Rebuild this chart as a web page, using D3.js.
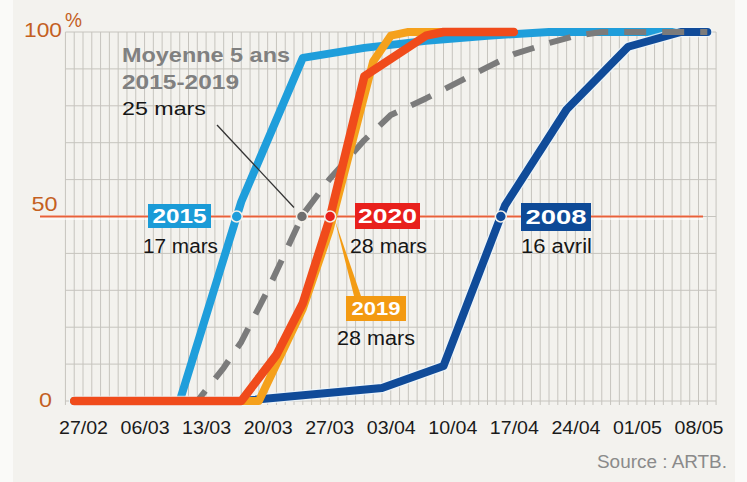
<!DOCTYPE html>
<html><head><meta charset="utf-8">
<script src="https://cdn.jsdelivr.net/npm/d3@7"></script>
<style>
html,body{margin:0;padding:0;background:#fafaf8;}
svg{display:block;font-family:"Liberation Sans",Arial,Helvetica,sans-serif;}
</style></head><body>
<svg id="c" width="747" height="482"></svg>
<script>
// ---------- data ----------
const xTickLabels = ["27/02","06/03","13/03","20/03","27/03","03/04","10/04","17/04","24/04","01/05","08/05"];
const yTickValues = [0, 50, 100];

const series2015 = [["26/02",0],["10/03",0],["17/03",54],["24/03",93],["31/03",95.7],["07/04",97.6],["14/04",99],["21/04",100],["09/05",100]];
const series2008 = [["26/02",0],["17/03",0],["02/04",3.5],["09/04",9.5],["16/04",53],["23/04",79],["30/04",96],["06/05",100],["09/05",100]];
const seriesMoy  = [["26/02",0],["12/03",0],["15/03",9],["17/03",16],["20/03",30],["24/03",50.5],["27/03",60],["31/03",70.7],["03/04",77.5],["07/04",82],["10/04",85.6],["14/04",90.5],["17/04",94],["21/04",97],["24/04",99],["27/04",100],["09/05",100]];
const series2019 = [["26/02",0],["19/03",0],["24/03",25],["27/03",46],["01/04",92],["03/04",99],["05/04",100],["14/04",100]];
const series2020 = [["26/02",0],["17/03",0],["21/03",12.5],["24/03",26.5],["27/03",49],["31/03",88],["07/04",99],["09/04",100],["17/04",100]];

// ---------- setup ----------
const parse = s => { const [d,m] = s.split("/").map(Number); return new Date(2019, m-1, d); };
const svg = d3.select("#c");
const x = d3.scaleTime().domain([parse("27/02"), parse("08/05")]).range([83, 698.5]);
const y = d3.scaleLinear().domain([0,100]).range([401, 32]);
const gridStart = parse("25/02"), gridEnd = parse("10/05");

function label(g, str, px, py, o) {
  const t = g.append("text").attr("x", px).attr("y", py).text(str)
    .attr("font-size", o.size).attr("font-weight", o.weight || "normal")
    .attr("fill", o.fill).attr("text-anchor", o.anchor || "start");
  if (o.len) t.attr("textLength", o.len).attr("lengthAdjust", "spacingAndGlyphs");
  return t;
}

// panel
svg.append("rect").attr("x",13).attr("y",0).attr("width",722).attr("height",482).attr("fill","#f3f2ee");

// grid
const grid = svg.append("g");
const days = d3.timeDay.range(gridStart, d3.timeDay.offset(gridEnd, 1));
grid.selectAll("line.v").data(days).join("line")
  .attr("x1", d => x(d)).attr("x2", d => x(d))
  .attr("y1", y(100)).attr("y2", y(0) + 4)
  .attr("stroke", "#c6c4be").attr("stroke-width", 1);
grid.selectAll("line.h").data(d3.range(0, 101, 10)).join("line")
  .attr("x1", x(gridStart)).attr("x2", x(gridEnd))
  .attr("y1", d => y(d)).attr("y2", d => y(d))
  .attr("stroke", "#c6c4be").attr("stroke-width", 1);

// 50% line
svg.append("line").attr("x1",40).attr("x2",703).attr("y1",y(50)+1).attr("y2",y(50)+1)
  .attr("stroke","#fff").attr("stroke-opacity",0.6).attr("stroke-width",5);
svg.append("line").attr("x1",40).attr("x2",703).attr("y1",y(50)).attr("y2",y(50))
  .attr("stroke","#e8613a").attr("stroke-width",2.2);

// lines
const line = d3.line().x(d => x(parse(d[0]))).y(d => y(d[1]));
function drawSeries(data, color, width, opts = {}) {
  if (opts.halo) svg.append("path").attr("d", line(data)).attr("fill","none")
    .attr("stroke","#eef6fc").attr("stroke-opacity",0.8).attr("stroke-width", width + 2.5)
    .attr("stroke-linejoin","round").attr("stroke-linecap","round");
  const p = svg.append("path").attr("d", line(data)).attr("fill","none")
    .attr("stroke", color).attr("stroke-width", width)
    .attr("stroke-linejoin","round").attr("stroke-linecap", opts.dash ? "butt" : "round");
  if (opts.dash) p.attr("stroke-dasharray", opts.dash);
}
drawSeries(series2015, "#1f9edb", 8);
drawSeries(series2008, "#104b99", 8, {halo:true});
drawSeries(seriesMoy, "#7b7b7b", 6, {dash:"22,16"});
drawSeries(series2019, "#f5a11c", 8);
drawSeries(series2020, "#f04b1b", 8.5);

// crossing of 50%
function cross50(data) {
  for (let i = 1; i < data.length; i++) {
    const a = data[i-1], b = data[i];
    if (a[1] < 50 && b[1] >= 50) {
      const ta = parse(a[0]).getTime(), tb = parse(b[0]).getTime();
      const t = ta + (tb - ta) * (50 - a[1]) / (b[1] - a[1]);
      return x(new Date(t));
    }
  }
}

// leaders
const cMoy = cross50(seriesMoy), c2019 = cross50(series2019);
svg.append("line").attr("x1",217).attr("y1",125).attr("x2",cMoy-8).attr("y2",y(50)-9)
  .attr("stroke","#333").attr("stroke-width",1.3);
svg.append("polygon")
  .attr("points", `${c2019+2},${y(50)+4} ${354},296 ${361},296`)
  .attr("fill","#f39c14");

// dots
const dots = [[series2015,"#1f9edb"],[seriesMoy,"#6f6f6f"],[series2020,"#e8211c"],[series2008,"#104b99"]];
svg.selectAll("circle.dot").data(dots).join("circle")
  .attr("cx", d => cross50(d[0])).attr("cy", y(50)).attr("r", 5.5)
  .attr("fill", d => d[1]).attr("stroke", "#f4f1ea").attr("stroke-width", 1.5);

// boxes
const ann = svg.append("g");
function box(bx, by, bw, bh, color, str, len, size) {
  ann.append("rect").attr("x",bx).attr("y",by).attr("width",bw).attr("height",bh).attr("fill",color);
  label(ann, str, bx + bw/2, by + bh/2 + size*0.36, {size: size, weight:"bold", fill:"#fff", anchor:"middle", len: len});
}
box(148, 204, 63, 24, "#1a9bd7", "2015", 54, 19.5);
box(355, 203, 65, 26, "#e8201c", "2020", 59, 20);
box(521, 203, 70, 28, "#0e4a97", "2008", 61, 20.5);
box(346, 296, 60, 25, "#f39a12", "2019", 49, 19);

label(ann, "17 mars", 143, 253, {size:19.5, fill:"#161616", len:75});
label(ann, "28 mars", 350, 253, {size:19.5, fill:"#161616", len:77});
label(ann, "16 avril", 521, 253, {size:19.5, fill:"#161616", len:71});
label(ann, "28 mars", 337, 345, {size:19.5, fill:"#161616", len:78});

label(ann, "Moyenne 5 ans", 122, 62, {size:21, weight:"bold", fill:"#808080", len:168});
label(ann, "2015-2019", 122, 88.5, {size:21, weight:"bold", fill:"#808080", len:117});
label(ann, "25 mars", 122, 115, {size:19, fill:"#161616", len:84});

// y labels
const yLab = svg.append("g");
const yLabPos = {100:{dy:5, len:38, cx:43}, 50:{dy:-6, len:26, cx:44.5}, 0:{dy:6, len:13, cx:45.5}};
yTickValues.forEach(v => {
  const p = yLabPos[v];
  label(yLab, String(v), p.cx, y(v) + p.dy, {size:21, fill:"#c4601f", anchor:"middle", len:p.len});
});
label(yLab, "%", 65, 27, {size:20, fill:"#c4601f", len:17});

// x axis
const xAxis = d3.axisBottom(x).tickValues(xTickLabels.map(parse))
  .tickFormat(d3.timeFormat("%d/%m")).tickSize(0).tickPadding(0);
const gx = svg.append("g").attr("transform", `translate(0,${434})`).call(xAxis);
gx.select(".domain").remove();
gx.selectAll("text").attr("dy", 0).attr("y", 0)
  .attr("font-size", 17.5).attr("fill", "#1a1a1a")
  .attr("font-family", '"Liberation Sans",Arial,sans-serif')
  .attr("textLength", 49).attr("lengthAdjust", "spacingAndGlyphs");

// source
label(svg, "Source : ARTB.", 727, 468, {size:17.5, fill:"#8a8a8a", anchor:"end", len:130});
</script>
</body></html>
